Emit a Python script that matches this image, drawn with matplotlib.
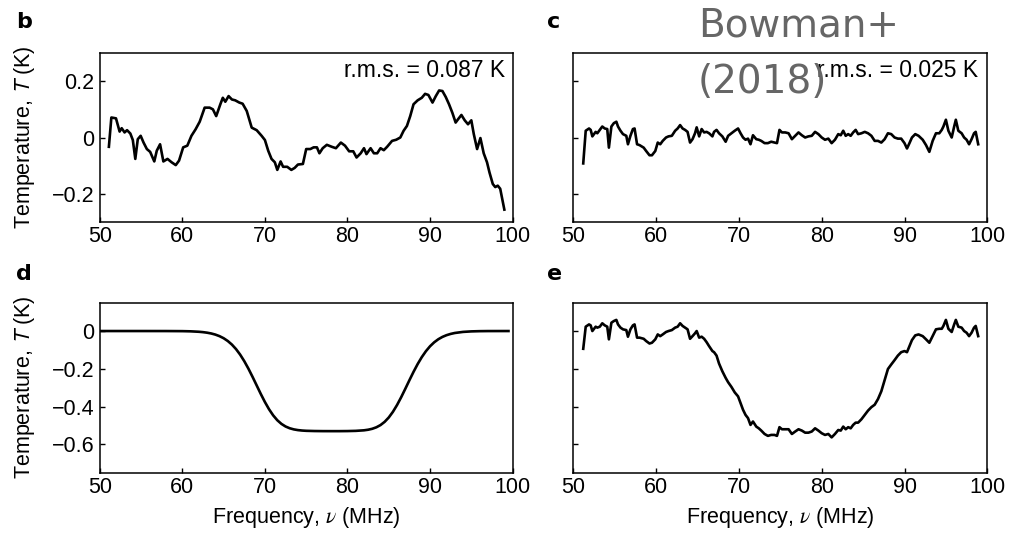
import numpy as np
import matplotlib
matplotlib.use("Agg")
import matplotlib.pyplot as plt

plt.rcParams['font.family'] = ['Liberation Sans', 'DejaVu Sans']

# ---------------- data ----------------
# Panel b: residuals after 5-term foreground fit
freq_b = [51.1, 51.4, 51.96, 52.4, 52.65, 53.0, 53.3, 53.7, 54.0, 54.3, 54.6, 54.95, 55.3, 55.7,
          56.1, 56.6, 56.9, 57.3, 57.7, 58.2, 58.7, 59.2, 59.6, 60.1, 60.6, 61.1, 61.6, 62.1,
          62.7, 63.3, 63.7, 64.1, 64.6, 64.9, 65.2, 65.6, 66.0, 66.4, 66.9, 67.3, 67.8, 68.4,
          69.0, 69.6, 70.0, 70.4, 70.8, 71.2, 71.5, 71.9, 72.2, 72.7, 73.2, 73.6, 74.0, 74.6,
          75.0, 75.5, 75.9, 76.3, 76.6, 77.0, 77.5, 78.1, 78.6, 79.2, 79.7, 80.2, 80.7, 81.1,
          81.6, 82.0, 82.3, 82.8, 83.2, 83.6, 84.0, 84.4, 84.8, 85.4, 85.9, 86.4, 86.8, 87.2,
          87.6, 88.0, 88.5, 89.0, 89.4, 89.8, 90.3, 90.7, 91.1, 91.5, 91.9, 92.3, 92.7, 93.1,
          93.4, 93.8, 94.2, 94.6, 95.0, 95.3, 95.7, 96.1, 96.5, 96.9, 97.2, 97.6, 97.9, 98.2,
          98.5, 99.0]
temp_b = [-0.033, 0.071, 0.068, 0.021, 0.033, 0.018, 0.026, 0.014, -0.009, -0.076, -0.006, 0.006,
          -0.018, -0.041, -0.051, -0.085, -0.047, -0.024, -0.085, -0.076, -0.088, -0.098, -0.082,
          -0.035, -0.029, 0.006, 0.029, 0.056, 0.106, 0.106, 0.100, 0.076, 0.118, 0.141, 0.127,
          0.147, 0.135, 0.132, 0.124, 0.120, 0.094, 0.035, 0.026, 0.006, -0.009, -0.047, -0.076,
          -0.088, -0.115, -0.085, -0.104, -0.104, -0.115, -0.108, -0.096, -0.094, -0.041, -0.041,
          -0.035, -0.035, -0.056, -0.038, -0.026, -0.033, -0.038, -0.018, -0.029, -0.049, -0.049,
          -0.071, -0.056, -0.038, -0.059, -0.038, -0.056, -0.056, -0.038, -0.045, -0.033, -0.012,
          -0.008, 0.000, 0.024, 0.041, 0.076, 0.118, 0.132, 0.141, 0.155, 0.151, 0.124, 0.147,
          0.167, 0.165, 0.144, 0.118, 0.088, 0.053, 0.065, 0.080, 0.061, 0.047, 0.061, 0.012,
          -0.041, -0.002, -0.056, -0.088, -0.124, -0.165, -0.176, -0.171, -0.182, -0.256]

# Panels c and e share the frequency channels
freq_ce = [51.2, 51.5, 51.9, 52.1, 52.3, 52.7, 52.9, 53.2, 53.5, 53.8, 54.1, 54.3, 54.6, 54.9,
           55.2, 55.4, 55.7, 56.0, 56.4, 56.6, 56.9, 57.2, 57.4, 57.7, 58.0, 58.5, 58.8, 59.2,
           59.5, 59.9, 60.2, 60.5, 60.8, 61.2, 61.5, 61.9, 62.3, 62.6, 62.9, 63.2, 63.5, 63.8,
           64.1, 64.4, 64.7, 64.9, 65.2, 65.5, 65.8, 66.1, 66.4, 66.8, 67.0, 67.3, 67.6, 68.0,
           68.4, 68.7, 69.1, 69.5, 69.9, 70.2, 70.5, 70.8, 71.1, 71.4, 71.7, 72.1, 72.4, 72.7,
           73.1, 73.5, 73.9, 74.3, 74.6, 74.9, 75.2, 75.6, 76.0, 76.4, 76.8, 77.2, 77.6, 78.0,
           78.4, 78.8, 79.2, 79.6, 80.0, 80.4, 80.8, 81.2, 81.6, 82.0, 82.3, 82.6, 82.9, 83.2,
           83.5, 83.8, 84.1, 84.4, 84.8, 85.2, 85.6, 86.0, 86.4, 86.8, 87.2, 87.6, 88.0, 88.4,
           88.8, 89.2, 89.6, 90.0, 90.3, 90.6, 90.9, 91.3, 91.7, 92.2, 92.6, 93.0, 93.4, 93.8,
           94.2, 94.5, 94.7, 95.0, 95.3, 95.7, 96.0, 96.2, 96.5, 96.9, 97.2, 97.5, 97.8, 98.1,
           98.4, 98.6, 98.9]
# Panel c: residuals after fitting foreground + absorption model
temp_c = [-0.092, 0.024, 0.032, 0.027, 0.004, 0.020, 0.015, 0.027, 0.039, 0.032, 0.030, -0.036,
          0.039, 0.051, 0.056, 0.039, 0.024, 0.012, 0.006, -0.024, 0.006, 0.030, 0.032, -0.024,
          -0.027, -0.036, -0.048, -0.063, -0.063, -0.048, -0.018, -0.024, -0.012, 0.000, 0.004,
          0.006, 0.024, 0.032, 0.044, 0.032, 0.027, 0.020, -0.018, -0.006, 0.015, 0.036, 0.004,
          0.030, 0.018, 0.020, 0.015, 0.004, 0.020, 0.027, 0.015, 0.004, -0.015, 0.006, 0.015,
          0.024, 0.032, 0.015, 0.000, -0.008, -0.004, -0.024, 0.008, -0.006, -0.008, -0.012,
          -0.020, -0.020, -0.015, -0.018, -0.020, 0.027, 0.018, 0.018, 0.015, -0.006, 0.006,
          0.018, 0.008, 0.000, 0.004, 0.006, 0.020, 0.012, 0.000, -0.008, -0.004, -0.020,
          -0.008, 0.012, 0.008, 0.024, 0.006, 0.012, 0.006, 0.018, 0.027, 0.012, 0.015, 0.020,
          0.015, 0.006, -0.012, -0.012, -0.018, -0.006, 0.015, 0.012, 0.000, -0.004, -0.004,
          -0.020, -0.039, -0.020, 0.000, 0.012, 0.006, -0.008, -0.027, -0.051, -0.012, 0.015,
          0.015, 0.027, 0.039, 0.063, 0.024, 0.000, 0.039, 0.063, 0.024, 0.015, 0.000, -0.008,
          -0.024, -0.006, 0.015, 0.020, -0.024]
# Panel e: model + residuals
temp_e = [-0.094, 0.023, 0.035, 0.030, 0.000, 0.023, 0.018, 0.023, 0.041, 0.030, 0.023, -0.044,
          0.044, 0.053, 0.059, 0.035, 0.018, 0.009, 0.005, -0.030, 0.009, 0.030, 0.035, -0.035,
          -0.035, -0.041, -0.053, -0.066, -0.062, -0.044, -0.018, -0.027, -0.018, -0.005, 0.000,
          0.005, 0.018, 0.023, 0.041, 0.027, 0.018, 0.009, -0.041, -0.027, -0.012, 0.000, -0.035,
          -0.030, -0.041, -0.059, -0.080, -0.106, -0.112, -0.130, -0.172, -0.213, -0.248, -0.271,
          -0.296, -0.325, -0.346, -0.382, -0.417, -0.444, -0.461, -0.497, -0.479, -0.506, -0.515,
          -0.527, -0.545, -0.555, -0.550, -0.550, -0.555, -0.509, -0.520, -0.520, -0.520, -0.545,
          -0.532, -0.520, -0.527, -0.538, -0.538, -0.532, -0.515, -0.527, -0.541, -0.550, -0.545,
          -0.563, -0.545, -0.524, -0.527, -0.506, -0.520, -0.509, -0.515, -0.497, -0.485, -0.485,
          -0.467, -0.444, -0.421, -0.403, -0.390, -0.360, -0.319, -0.261, -0.201, -0.177, -0.154,
          -0.130, -0.112, -0.106, -0.112, -0.080, -0.048, -0.023, -0.018, -0.027, -0.044, -0.062,
          -0.027, 0.009, 0.012, 0.012, 0.027, 0.059, 0.012, -0.005, 0.035, 0.059, 0.023, 0.018,
          0.000, -0.009, -0.027, -0.009, 0.018, 0.027, -0.027]

# Panel d: best-fitting flattened absorption profile
freq_d = [50, 55, 58, 60, 61, 62, 62.5, 63, 63.5, 64, 64.5, 65, 65.5, 66, 66.5, 67, 67.5, 68,
          68.5, 69, 69.5, 70, 70.5, 71, 71.5, 72, 72.5, 73, 73.5, 74, 74.5, 75, 76, 77, 78, 79,
          80, 81, 82, 82.5, 83, 83.5, 84, 84.5, 85, 85.5, 86, 86.5, 87, 87.5, 88, 88.5, 89,
          89.5, 90, 90.5, 91, 91.5, 92, 92.5, 93, 94, 95, 96, 97, 99.5]
temp_d = [0.0, 0.0, -0.0001, -0.0006, -0.0016, -0.0039, -0.0059, -0.0088, -0.0130, -0.0189,
          -0.0271, -0.0381, -0.0528, -0.0717, -0.0956, -0.1249, -0.1596, -0.1991, -0.2425,
          -0.2878, -0.3331, -0.3759, -0.4142, -0.4465, -0.4723, -0.4916, -0.5054, -0.5147,
          -0.5207, -0.5245, -0.5268, -0.5282, -0.5294, -0.5299, -0.5300, -0.5300, -0.5296,
          -0.5285, -0.5256, -0.5225, -0.5175, -0.5096, -0.4978, -0.4808, -0.4577, -0.4279,
          -0.3919, -0.3507, -0.3061, -0.2605, -0.2161, -0.1748, -0.1381, -0.1067, -0.0806,
          -0.0598, -0.0435, -0.0311, -0.0219, -0.0152, -0.0103, -0.0046, -0.0019, -0.0007,
          -0.0002, 0.0]

xticks = [50, 60, 70, 80, 90, 100]
xticklabels = ['50', '60', '70', '80', '90', '100']
yticks_top = [-0.2, 0, 0.2]
yticklabels_top = ['\u22120.2', '0', '0.2']
yticks_bot = [-0.6, -0.4, -0.2, 0]
yticklabels_bot = ['\u22120.6', '\u22120.4', '\u22120.2', '0']
rms_b = 'r.m.s. = 0.087 K'
rms_c = 'r.m.s. = 0.025 K'

# ---------------- figure ----------------
W, H = 1017, 533
fig = plt.figure(figsize=(W / 100, H / 100), dpi=100)

def px_axes(x0, x1, y0, y1):
    return fig.add_axes([x0 / W, 1 - y1 / H, (x1 - x0) / W, (y1 - y0) / H])

ax_b = px_axes(99.8, 512.6, 53, 222)
ax_c = px_axes(573.3, 987.3, 53, 222)
ax_d = px_axes(99.8, 512.6, 302.7, 472.7)
ax_e = px_axes(573.3, 987.3, 302.7, 472.7)

FS = 15.5
LW = 1.9

for ax in (ax_b, ax_c, ax_d, ax_e):
    ax.set_xlim(50, 100)
    ax.set_xticks(xticks)
    ax.set_xticklabels(xticklabels)
    ax.tick_params(direction='in', length=3.5, width=1.0, labelsize=FS, pad=3,
                   colors='black')
    ax.tick_params(axis='y', pad=4)
    for s in ax.spines.values():
        s.set_linewidth(1.1)
        s.set_color('black')

for ax in (ax_b, ax_c):
    ax.set_ylim(-0.3, 0.3)
    ax.set_yticks(yticks_top)
for ax in (ax_d, ax_e):
    ax.set_ylim(-0.75, 0.15)
    ax.set_yticks(yticks_bot)

ax_b.set_yticklabels(yticklabels_top)
ax_d.set_yticklabels(yticklabels_bot)
ax_c.set_yticklabels([])
ax_e.set_yticklabels([])

ax_b.plot(freq_b, temp_b, color='black', lw=LW)
ax_c.plot(freq_ce, temp_c, color='black', lw=LW)
ax_d.plot(freq_d, temp_d, color='black', lw=LW)
ax_e.plot(freq_ce, temp_e, color='black', lw=LW)

ax_b.text(0.983, 0.86, rms_b, transform=ax_b.transAxes, ha='right', va='baseline', fontsize=16.5)
ax_c.text(0.978, 0.86, rms_c, transform=ax_c.transAxes, ha='right', va='baseline', fontsize=16.5)

for ax in (ax_b, ax_d):
    ax.set_ylabel('Temperature, $T$ (K)', fontsize=FS, math_fontfamily='stixsans')
    ax.yaxis.set_label_coords((37 - 99.8) / 412.8, 0.5)
for ax in (ax_d, ax_e):
    ax.set_xlabel(r'Frequency, $\nu$ (MHz)', fontsize=FS, math_fontfamily='stix', labelpad=5)

# panel letters
for lab, x, y in (('b', 16, 28), ('c', 547, 28), ('d', 16, 280), ('e', 547, 280)):
    fig.text(x / W, 1 - y / H, lab, fontsize=16, fontweight='bold',
             family='DejaVu Sans', ha='left', va='baseline')

# annotation
fig.text(698 / W, 1 - 36.7 / H, 'Bowman+', fontsize=28, color='#666666',
         family='DejaVu Sans', ha='left', va='baseline', zorder=10)
fig.text(698 / W, 1 - 93.5 / H, '(2018)', fontsize=28, color='#666666',
         family='DejaVu Sans', ha='left', va='baseline', zorder=10)

fig.savefig('out.png', dpi=100)
